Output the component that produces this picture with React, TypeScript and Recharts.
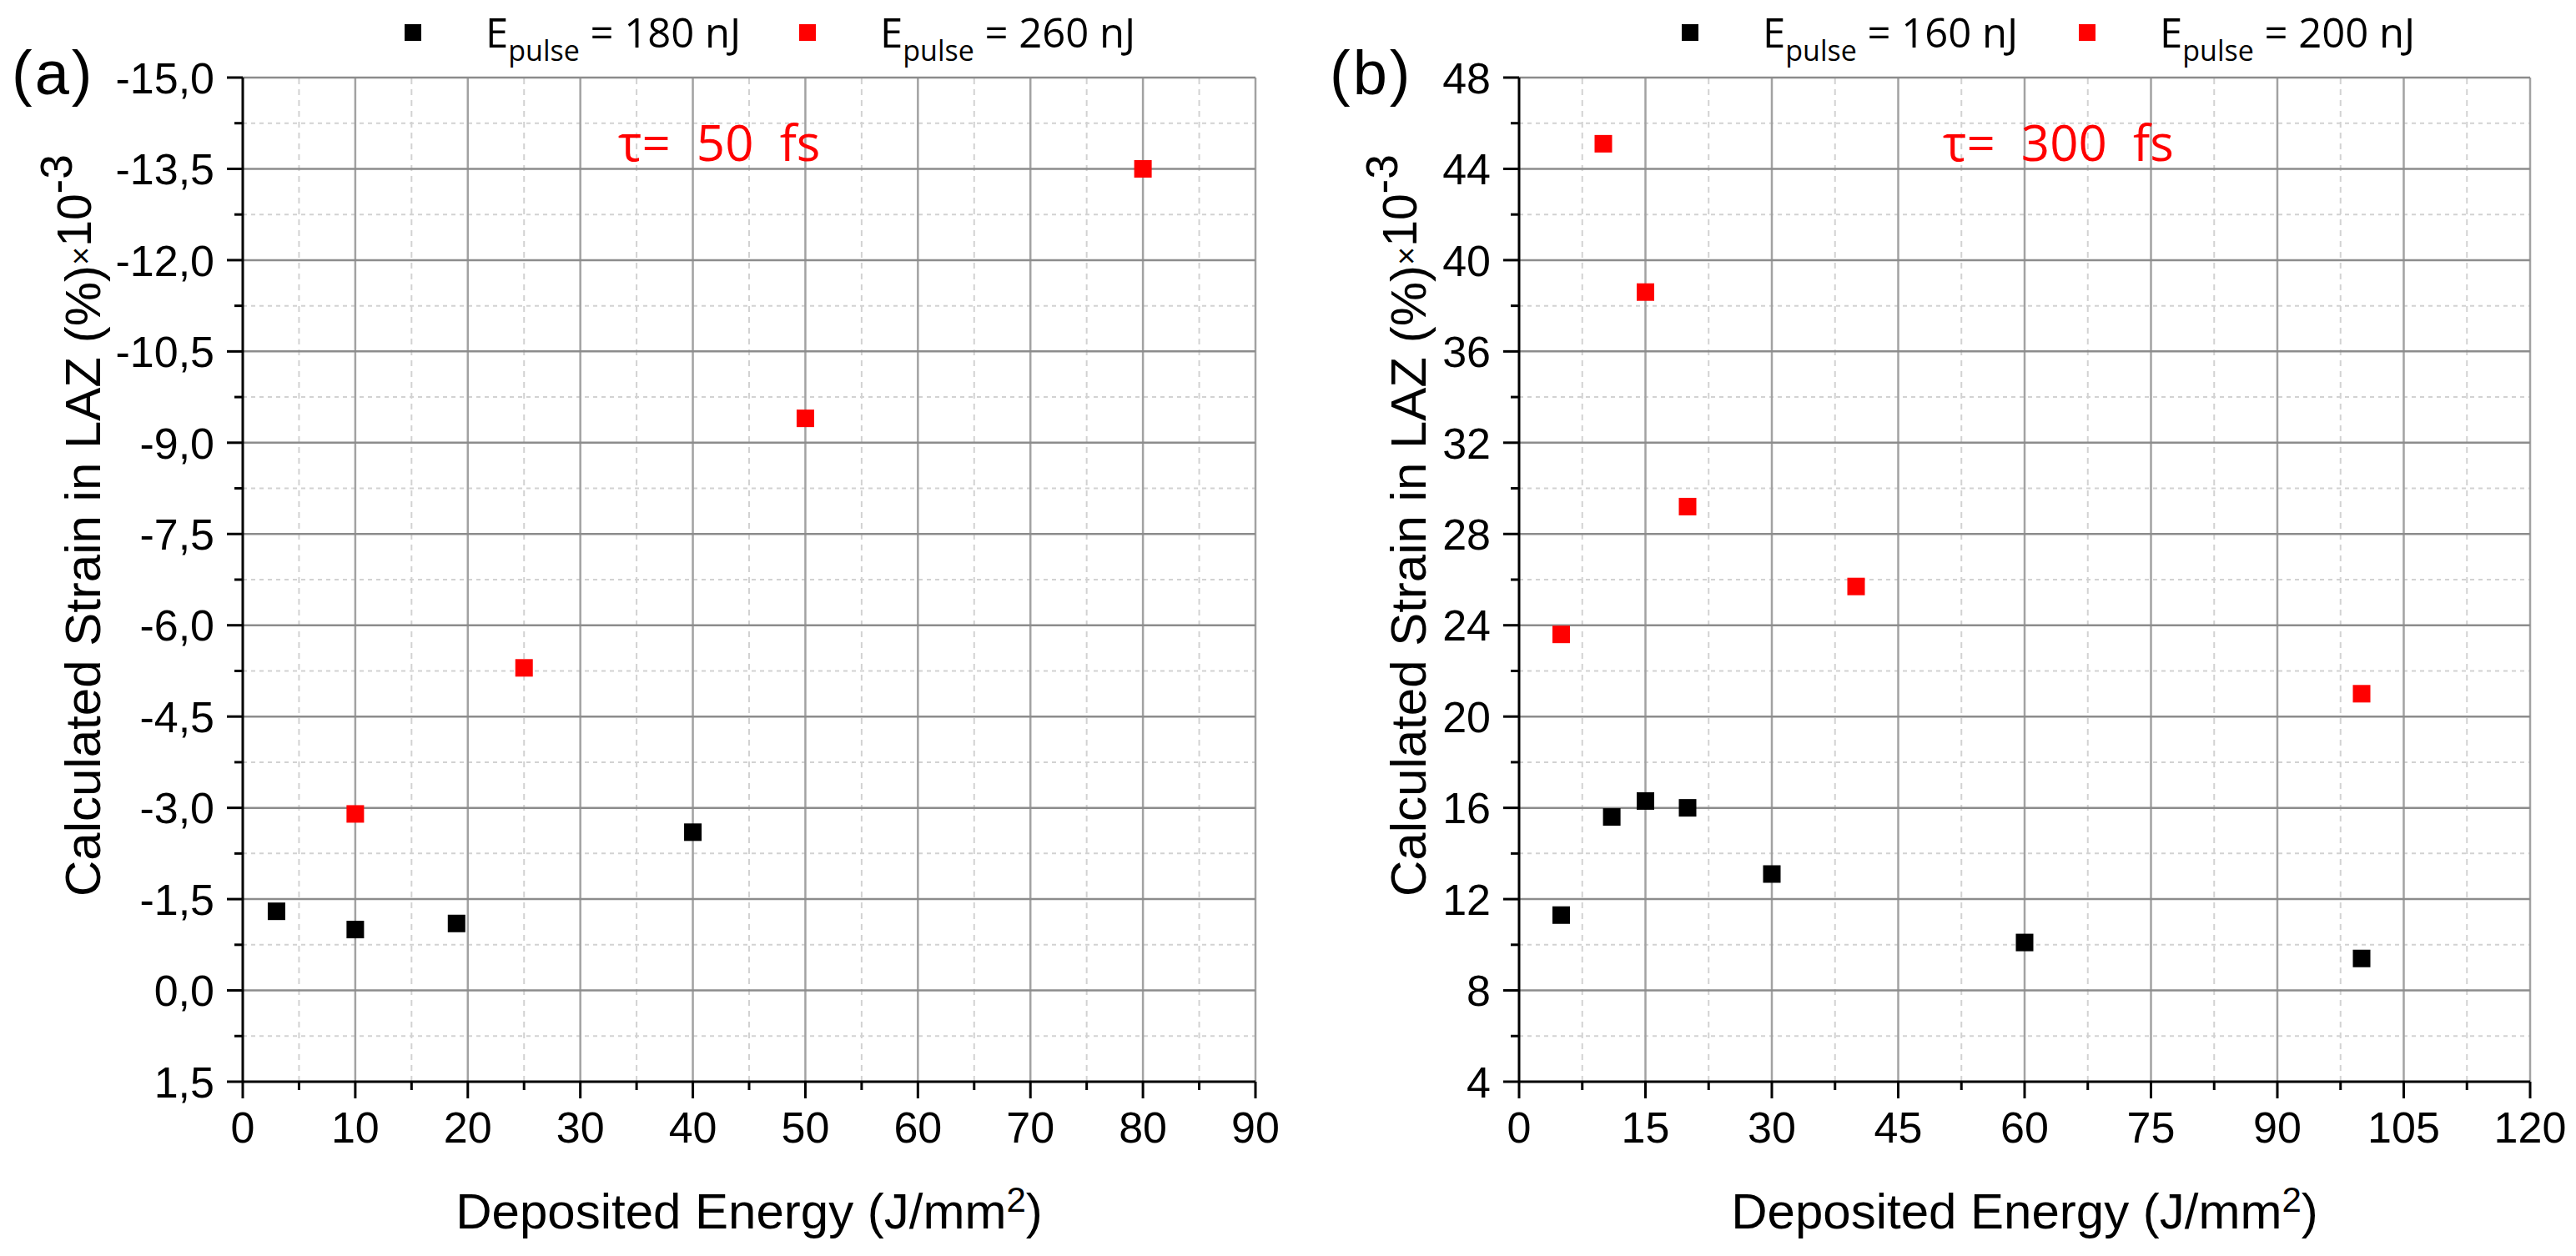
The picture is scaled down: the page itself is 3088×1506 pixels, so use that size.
import React from 'react';
import { ScatterChart, Scatter, XAxis, YAxis, ReferenceLine, Legend } from 'recharts';

// ---------- Panel (a): tau = 50 fs ----------
const energyA180 = [3, 10, 19, 40];
const strainA180 = [-1.3, -1.0, -1.1, -2.6];
const energyA260 = [10, 25, 50, 80];
const strainA260 = [-2.9, -5.3, -9.4, -13.5];

// ---------- Panel (b): tau = 300 fs ----------
const energyB160 = [5, 11, 15, 20, 30, 60, 100];
const strainB160 = [11.3, 15.6, 16.3, 16.0, 13.1, 10.1, 9.4];
const energyB200 = [5, 10, 15, 20, 40, 100];
const strainB200 = [23.6, 45.1, 38.6, 29.2, 25.7, 21.0];

const seriesNamesA = ['180 nJ', '260 nJ'];
const seriesNamesB = ['160 nJ', '200 nJ'];
const seriesColors = ['#000000', '#ff0000'];

// ---------- Ticks ----------
const xMajorA = [0, 10, 20, 30, 40, 50, 60, 70, 80, 90];
const xLabelsA = ['0', '10', '20', '30', '40', '50', '60', '70', '80', '90'];
const xMinorA = [5, 15, 25, 35, 45, 55, 65, 75, 85];
const yMajorA = [-15, -13.5, -12, -10.5, -9, -7.5, -6, -4.5, -3, -1.5, 0, 1.5];
const yLabelsA = ['-15,0', '-13,5', '-12,0', '-10,5', '-9,0', '-7,5', '-6,0', '-4,5', '-3,0', '-1,5', '0,0', '1,5'];
const yMinorA = [-14.25, -12.75, -11.25, -9.75, -8.25, -6.75, -5.25, -3.75, -2.25, -0.75, 0.75];

const xMajorB = [0, 15, 30, 45, 60, 75, 90, 105, 120];
const xLabelsB = ['0', '15', '30', '45', '60', '75', '90', '105', '120'];
const xMinorB = [7.5, 22.5, 37.5, 52.5, 67.5, 82.5, 97.5, 112.5];
const yMajorB = [4, 8, 12, 16, 20, 24, 28, 32, 36, 40, 44, 48];
const yLabelsB = ['4', '8', '12', '16', '20', '24', '28', '32', '36', '40', '44', '48'];
const yMinorB = [6, 10, 14, 18, 22, 26, 30, 34, 38, 42, 46];

const TICK_FONT = '"Liberation Sans", Arial, sans-serif';
const TEXT_FONT = '"Open Sans", "Noto Sans", sans-serif';

const PANEL_W = 1544;
const PANEL_H = 1506;

const makeXTick = (major: number[], labels: string[]) => (props: any) => {
  const { x, y, payload } = props;
  const i = major.indexOf(payload.value);
  const len = i >= 0 ? 20 : 10;
  return (
    <g>
      <line x1={x} x2={x} y1={y} y2={y + len} stroke="#000" strokeWidth={3} />
      {i >= 0 ? (
        <text x={x} y={y + 73} textAnchor="middle" fontFamily={TICK_FONT} fontSize={52} fill="#000">
          {labels[i]}
        </text>
      ) : null}
    </g>
  );
};

const makeYTick = (major: number[], labels: string[]) => (props: any) => {
  const { x, y, payload } = props;
  const i = major.indexOf(payload.value);
  const len = i >= 0 ? 19 : 10;
  return (
    <g>
      <line x1={x - len} x2={x} y1={y} y2={y} stroke="#000" strokeWidth={3} />
      {i >= 0 ? (
        <text x={x - 34} y={y} dy="0.36em" textAnchor="end" fontFamily={TICK_FONT} fontSize={52} fill="#000">
          {labels[i]}
        </text>
      ) : null}
    </g>
  );
};

const makeXLabel = () => (props: any) => {
  const vb = props.viewBox || {};
  const cx = vb.x + vb.width / 2;
  const y = vb.y + 176;
  return (
    <text x={cx} y={y} textAnchor="middle" fontFamily={TICK_FONT} fontSize={60} fill="#000">
      Deposited Energy (J/mm
      <tspan fontSize={42} dy={-20}>2</tspan>
      <tspan dy={20}>)</tspan>
    </text>
  );
};

const makeYLabel = (offset: number) => (props: any) => {
  const vb = props.viewBox || {};
  const x = vb.x + vb.width - offset;
  const y = vb.y + vb.height - 222;
  return (
    <text x={x} y={y} transform={`rotate(-90, ${x}, ${y})`} fontFamily={TICK_FONT} fontSize={60} fill="#000">
      Calculated Strain in LAZ (%)
      <tspan fontSize={38} dy={-10}>×</tspan>
      <tspan fontSize={57} dy={-1}>10</tspan>
      <tspan fontSize={53} dy={-23}>-3</tspan>
    </text>
  );
};

const makeLegend = (xs: number[]) => (props: any) => {
  const payload = props.payload || [];
  return (
    <svg width={PANEL_W} height={95} style={{ display: 'block' }}>
      {payload.map((entry: any, i: number) => (
        <g key={i}>
          <rect x={xs[i] - 10} y={29} width={20} height={20} fill={entry.color} />
          <text x={xs[i] + 87} y={57} fontFamily={TEXT_FONT} fontSize={49} fill="#000">
            E
            <tspan fontSize={34} dy={16}>pulse</tspan>
            <tspan dy={-16}>{' = ' + entry.value}</tspan>
          </text>
        </g>
      ))}
    </svg>
  );
};

const makeSquare = (color: string) => (props: any) => {
  const { cx, cy } = props;
  if (cx == null || cy == null) return <g />;
  return <rect x={cx - 10.5} y={cy - 10.5} width={21} height={21} fill={color} />;
};

type Series = { name: string; color: string; xs: number[]; ys: number[] };

type PanelProps = {
  left: number;
  tag: string;
  tagX: number;
  tau: string;
  tauX: number;
  series: Series[];
  xMajor: number[];
  xLabels: string[];
  xMinor: number[];
  yMajor: number[];
  yLabels: string[];
  yMinor: number[];
  xDomain: [number, number];
  yDomain: [number, number];
  yReversed: boolean;
  yBottom: number;
  margin: { top: number; right: number; bottom: number; left: number };
  yLabelOffset: number;
  legendXs: number[];
};

const MAJOR_H = '#8c8c8c';
const MAJOR_V = '#a2a2a2';
const MINOR = '#d2d2d2';

function Panel(p: PanelProps) {
  const xTicks = [...p.xMajor, ...p.xMinor].sort((a, b) => a - b);
  const yTicks = [...p.yMajor, ...p.yMinor].sort((a, b) => a - b);
  return (
    <div style={{ position: 'absolute', left: p.left, top: 0, width: PANEL_W, height: PANEL_H }}>
      <ScatterChart width={PANEL_W} height={PANEL_H} margin={p.margin}>
        {p.xMinor.map((v) => (
          <ReferenceLine key={'xm' + v} x={v} stroke={MINOR} strokeWidth={2} strokeDasharray="7 6" />
        ))}
        {p.yMinor.map((v) => (
          <ReferenceLine key={'ym' + v} y={v} stroke={MINOR} strokeWidth={2} strokeDasharray="5 5" />
        ))}
        {p.xMajor
          .filter((v) => v !== p.xDomain[0])
          .map((v) => (
            <ReferenceLine key={'xM' + v} x={v} stroke={MAJOR_V} strokeWidth={2.5} />
          ))}
        {p.yMajor
          .filter((v) => v !== p.yBottom)
          .map((v) => (
            <ReferenceLine key={'yM' + v} y={v} stroke={MAJOR_H} strokeWidth={2.5} />
          ))}
        <XAxis
          type="number"
          dataKey="x"
          domain={p.xDomain}
          ticks={xTicks}
          interval={0}
          tickSize={0}
          tickMargin={0}
          tickLine={false}
          tick={makeXTick(p.xMajor, p.xLabels)}
          axisLine={{ stroke: '#000', strokeWidth: 3 }}
          height={60}
          label={{ content: makeXLabel() } as any}
        />
        <YAxis
          type="number"
          dataKey="y"
          domain={p.yDomain}
          reversed={p.yReversed}
          ticks={yTicks}
          interval={0}
          tickSize={0}
          tickMargin={0}
          tickLine={false}
          tick={makeYTick(p.yMajor, p.yLabels)}
          axisLine={{ stroke: '#000', strokeWidth: 3 }}
          width={100}
          label={{ content: makeYLabel(p.yLabelOffset) } as any}
        />
        {p.series.map((s) => (
          <Scatter
            key={s.name}
            name={s.name}
            data={s.xs.map((x, i) => ({ x, y: s.ys[i] }))}
            fill={s.color}
            shape={makeSquare(s.color)}
            isAnimationActive={false}
          />
        ))}
        <Legend
          layout="horizontal"
          verticalAlign="middle"
          align="center"
          wrapperStyle={{ position: 'absolute', top: 0, left: 0, width: PANEL_W, height: 95, margin: 0, padding: 0 }}
          content={makeLegend(p.legendXs)}
        />
      </ScatterChart>
      <svg
        width={PANEL_W}
        height={PANEL_H}
        style={{ position: 'absolute', left: 0, top: 0, pointerEvents: 'none' }}
      >
        <text x={p.tagX} y={113} fontFamily={TICK_FONT} fontSize={74} letterSpacing={3} fill="#000">
          {p.tag}
        </text>
        <text x={p.tauX} y={193} fontFamily={TEXT_FONT} fontSize={60} fill="#ff0000" style={{ whiteSpace: 'pre' }}>
          {p.tau}
        </text>
      </svg>
    </div>
  );
}

export default function App() {
  return (
    <div style={{ position: 'absolute', left: 0, top: 0, width: 3088, height: 1506, background: '#fff', overflow: 'hidden' }}>
      <Panel
        left={0}
        tag="(a)"
        tagX={14}
        tau={'τ=  50  fs'}
        tauX={741}
        series={[
          { name: seriesNamesA[0], color: seriesColors[0], xs: energyA180, ys: strainA180 },
          { name: seriesNamesA[1], color: seriesColors[1], xs: energyA260, ys: strainA260 },
        ]}
        xMajor={xMajorA}
        xLabels={xLabelsA}
        xMinor={xMinorA}
        yMajor={yMajorA}
        yLabels={yLabelsA}
        yMinor={yMinorA}
        xDomain={[0, 90]}
        yDomain={[-15, 1.5]}
        yReversed={true}
        yBottom={1.5}
        margin={{ top: 93, right: 39, bottom: 149, left: 191 }}
        yLabelOffset={171}
        legendXs={[495, 968]}
      />
      <Panel
        left={1544}
        tag="(b)"
        tagX={50}
        tau={'τ=  300  fs'}
        tauX={785}
        series={[
          { name: seriesNamesB[0], color: seriesColors[0], xs: energyB160, ys: strainB160 },
          { name: seriesNamesB[1], color: seriesColors[1], xs: energyB200, ys: strainB200 },
        ]}
        xMajor={xMajorB}
        xLabels={xLabelsB}
        xMinor={xMinorB}
        yMajor={yMajorB}
        yLabels={yLabelsB}
        yMinor={yMinorB}
        xDomain={[0, 120]}
        yDomain={[4, 48]}
        yReversed={false}
        yBottom={4}
        margin={{ top: 93, right: 55, bottom: 149, left: 177 }}
        yLabelOffset={112}
        legendXs={[482, 958]}
      />
    </div>
  );
}
